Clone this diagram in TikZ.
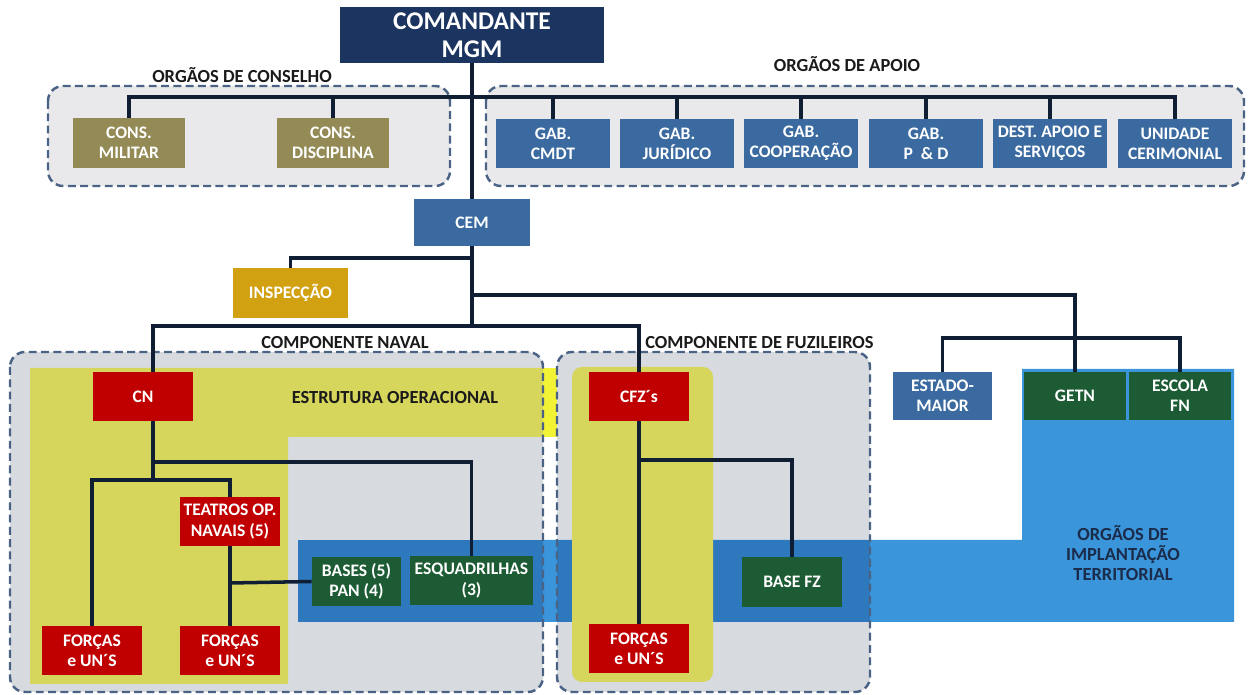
\documentclass[tikz,border=0pt]{standalone}
\usepackage{fontspec}
\setmainfont{Carlito}
\usetikzlibrary{positioning}
\definecolor{linec}{HTML}{0F1E33}
\definecolor{dashc}{HTML}{4A6284}
\definecolor{palegray}{HTML}{E9E9EB}
\definecolor{boxgray}{HTML}{D7DADF}
\definecolor{yel}{HTML}{D6D65C}
\definecolor{brightyel}{HTML}{F3F335}
\definecolor{bandlight}{HTML}{3A95DA}
\definecolor{banddark}{HTML}{2E78BD}
\definecolor{navy}{HTML}{1B3560}
\definecolor{gabblue}{HTML}{3A6AA0}
\definecolor{olive}{HTML}{938A55}
\definecolor{gold}{HTML}{D2A111}
\definecolor{darkred}{HTML}{C00000}
\definecolor{darkgreen}{HTML}{1D5B34}
\definecolor{titletext}{HTML}{1A1A1A}
\definecolor{terrtext}{HTML}{1B2B4A}
\tikzset{orgbox/.style = {rectangle, inner sep = 1pt, align = center, text = white, font = \bfseries\fontsize{10}{11.5}\selectfont, minimum width = 2cm, minimum height = 0.98cm}}
\tikzset{cmdtbox/.style = {orgbox, fill = navy, font = \bfseries\fontsize{14.5}{16}\selectfont, minimum width = 5.3cm, minimum height = 1.12cm}}
\tikzset{gabbox/.style = {orgbox, fill = gabblue, minimum width = 2.28cm}}
\tikzset{consbox/.style = {orgbox, fill = olive, minimum width = 2.26cm, minimum height = 1cm}}
\tikzset{redbox/.style = {orgbox, fill = darkred}}
\tikzset{greenbox/.style = {orgbox, fill = darkgreen}}
\tikzset{groupbox/.style = {draw = dashc, line width = 1.4pt, dash pattern = on 4.5pt off 2.5pt, rounded corners = 0.3cm}}
\tikzset{grouplabel/.style = {text = titletext, font = \bfseries\fontsize{10.5}{11.5}\selectfont, inner sep = 0}}
\tikzset{link/.style = {draw = linec, line width = 2pt}}

\begin{document}
\begin{tikzpicture}[x = 0.02cm, y = -0.02cm]
    \useasboundingbox (0, 0) rectangle (1248, 695);

    % background areas
    \filldraw[groupbox, fill = palegray] (48, 86) rectangle (450, 186);
    \filldraw[groupbox, fill = palegray] (486, 86) rectangle (1244, 186);
    \fill[boxgray, rounded corners = 0.3cm] (10, 352) rectangle (543, 692);
    \fill[boxgray, rounded corners = 0.3cm] (557, 352) rectangle (870, 692);
    \fill[yel] (30, 368) -- (543, 368) -- (543, 437) -- (288, 437) -- (288, 684) -- (30, 684) -- cycle;
    \fill[brightyel] (543, 368) rectangle (557, 437);
    \fill[bandlight] (543, 540) -- (1022, 540) -- (1022, 369) -- (1234, 369) -- (1234, 622) -- (543, 622) -- cycle;
    \fill[banddark] (298, 540) rectangle (543, 622);
    \fill[banddark] (557, 540) rectangle (870, 622);
    \fill[yel, rounded corners = 0.2cm] (572, 367) rectangle (713, 682);
    \draw[groupbox] (10, 352) rectangle (543, 692);
    \draw[groupbox] (557, 352) rectangle (870, 692);

    \node[grouplabel] (lcons) at (242, 75) {ORGÃOS DE CONSELHO};
    \node[grouplabel] (lapoio) at (847, 64) {ORGÃOS DE APOIO};
    \node[grouplabel] (lnaval) at (345, 343) {COMPONENTE NAVAL};
    \node[grouplabel, anchor = west] (lfuz) at (645, 343) {COMPONENTE DE FUZILEIROS};
    \node[grouplabel] (lestr) at (395, 398) {ESTRUTURA OPERACIONAL};
    \node[grouplabel, text = terrtext, align = center, font = \bfseries\fontsize{10.5}{11.5}\selectfont] (lterr) at (1123, 553) {ORGÃOS DE\\IMPLANTAÇÃO\\TERRITORIAL};

    % boxes
    \node[cmdtbox] (cmdt) at (472, 35) {COMANDANTE\\MGM};
    \node[consbox] (cmil) at (129, 143) {CONS.\\MILITAR};
    \node[consbox] (cdis) at (333, 143) {CONS.\\DISCIPLINA};
    \node[gabbox] (gabc) at (553, 143.5) {GAB.\\CMDT};
    \node[gabbox] (gabj) at (677, 143.5) {GAB.\\JURÍDICO};
    \node[gabbox] (gabk) at (801, 143.5) {GAB.\\COOPERAÇÃO};
    \node[gabbox] (gabp) at (926, 143.5) {GAB.\\P~~\& D};
    \node[gabbox] (dest) at (1050, 143.5) {DEST. APOIO E\\SERVIÇOS};
    \node[gabbox] (unid) at (1175, 143.5) {UNIDADE\\CERIMONIAL};
    \node[gabbox, minimum width = 2.32cm, minimum height = 0.94cm] (cem) at (472, 222.5) {CEM};
    \node[orgbox, fill = gold, minimum width = 2.3cm, minimum height = 1cm] (insp) at (290.5, 293) {INSPECÇÃO};
    \node[gabbox, minimum width = 1.98cm, minimum height = 0.96cm] (estado) at (942.5, 396) {ESTADO-\\MAIOR};
    \node[greenbox, minimum width = 2.04cm, minimum height = 0.96cm] (getn) at (1075, 396) {GETN};
    \node[greenbox, minimum width = 2.04cm, minimum height = 0.96cm] (escola) at (1180, 396) {ESCOLA\\FN};
    \node[redbox] (cn) at (143, 396.5) {CN};
    \node[redbox] (teatros) at (230, 521.5) {TEATROS OP.\\NAVAIS (5)};
    \node[redbox] (forca1) at (92, 650.5) {FORÇAS\\e UN´S};
    \node[redbox] (forca2) at (230, 650.5) {FORÇAS\\e UN´S};
    \node[greenbox, minimum width = 1.78cm] (bases) at (356.5, 581.5) {BASES (5)\\PAN (4)};
    \node[greenbox, minimum width = 2.46cm] (esq) at (471.5, 580.5) {ESQUADRILHAS\\(3)};
    \node[redbox] (cfz) at (639, 396.5) {CFZ´s};
    \node[redbox] (forca3) at (639, 648.5) {FORÇAS\\e UN´S};
    \node[greenbox, minimum height = 1cm] (basefz) at (792, 582) {BASE FZ};

    % connectors
    \coordinate (busA) at (472, 97);
    \coordinate (jI) at (472, 258);
    \coordinate (jR) at (472, 295);
    \coordinate (jN) at (472, 326);
    \coordinate (jT) at (1075, 338);
    \draw[link] (cmdt.south) -- (cem.north);
    \draw[link] (cmil.north) |- (busA) -| (unid.north);
    \foreach \n in {cdis, gabc, gabj, gabk, gabp, dest}
        \draw[link] (\n.north) -- (\n.north |- busA);
    \draw[link] (cem.south) -- (jN);
    \draw[link] (jI) -| (insp.north);
    \draw[link] (jR) -| (getn.north);
    \draw[link] (estado.north) |- (jT) -| (escola.north);

    \coordinate (cnx) at (153, 326);
    \coordinate (n1) at (153, 462);
    \coordinate (n2) at (153, 480);
    \coordinate (n3) at (230, 583);
    \draw[link] (cn.north -| cnx) -- (cnx) -- (jN) -| (cfz.north);
    \draw[link] (cn.south -| cnx) -- (n2);
    \draw[link] (n1) -| (esq.north);
    \draw[link] (forca1.north) |- (n2) -| (teatros.north);
    \draw[link] (teatros.south) -- (forca2.north);
    \draw[link] (n3) -- (bases.west);

    \coordinate (f1) at (639, 460);
    \draw[link] (cfz.south) -- (forca3.north);
    \draw[link] (f1) -| (basefz.north);
  \end{tikzpicture}
\end{document}
